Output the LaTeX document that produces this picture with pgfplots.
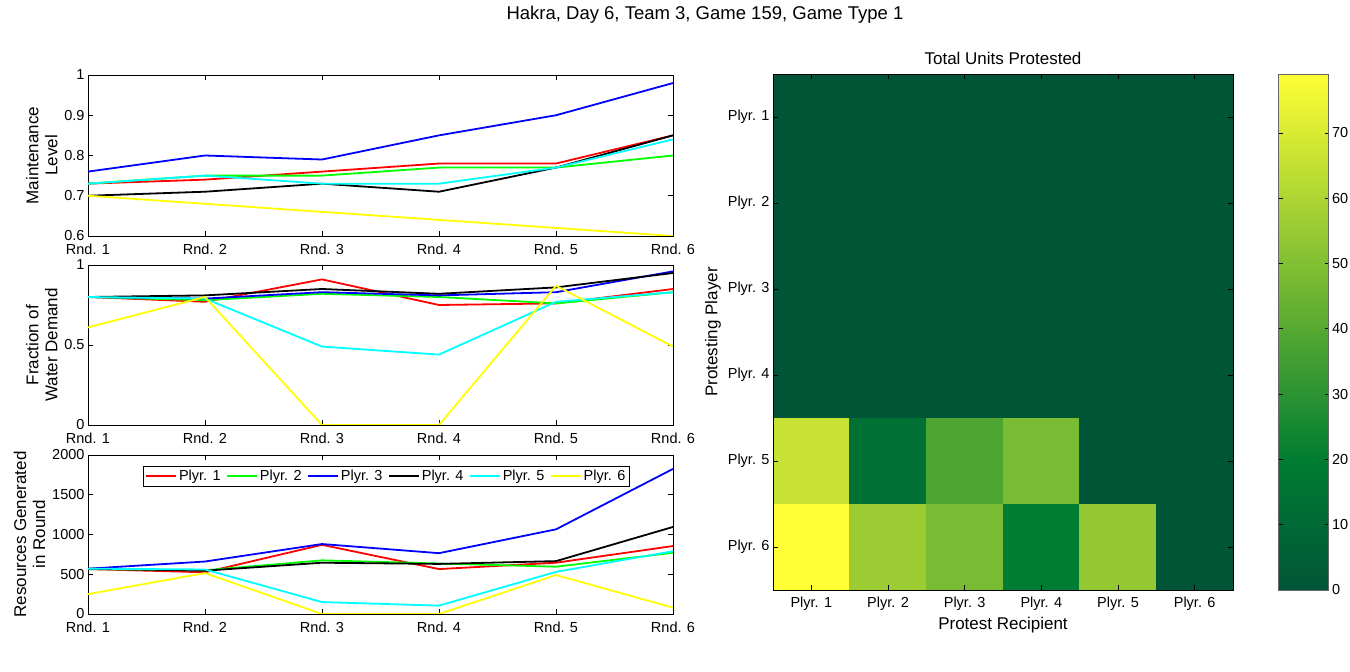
\documentclass[border=0pt]{standalone}
\usepackage{fontspec}
\setmainfont{Liberation Sans}
\usepackage{pgfplots}
\usepackage{pgfplotstable}
\pgfplotsset{compat=1.18}

% Per-round series: one column per player
\pgfplotstableread{
r p1 p2 p3 p4 p5 p6
1 0.73 0.73 0.76 0.70 0.73 0.70
2 0.74 0.75 0.80 0.71 0.75 0.68
3 0.76 0.75 0.79 0.73 0.73 0.66
4 0.78 0.77 0.85 0.71 0.73 0.64
5 0.78 0.77 0.90 0.77 0.77 0.62
6 0.85 0.80 0.98 0.85 0.84 0.60
}\maint

\pgfplotstableread{
r p1 p2 p3 p4 p5 p6
1 0.80 0.80 0.80 0.80 0.80 0.61
2 0.77 0.78 0.79 0.81 0.79 0.80
3 0.91 0.82 0.83 0.85 0.49 0.00
4 0.75 0.80 0.81 0.82 0.44 0.00
5 0.76 0.76 0.83 0.86 0.77 0.87
6 0.85 0.83 0.96 0.95 0.83 0.49
}\water

\pgfplotstableread{
r p1 p2 p3 p4 p5 p6
1 565 565 570 570 570 250
2 525 550 660 545 560 515
3 870 675 880 645 150 0
4 565 635 765 630 105 0
5 645 595 1065 665 530 490
6 855 770 1825 1095 790 80
}\resources

% Protest matrix: x = recipient, y = protesting player
\pgfplotstableread{
x y c
1 1 0
2 1 0
3 1 0
4 1 0
5 1 0
6 1 0
1 2 0
2 2 0
3 2 0
4 2 0
5 2 0
6 2 0
1 3 0
2 3 0
3 3 0
4 3 0
5 3 0
6 3 0
1 4 0
2 4 0
3 4 0
4 4 0
5 4 0
6 4 0
1 5 66
2 5 14
3 5 38
4 5 48
5 5 0
6 5 0
1 6 79
2 6 56
3 6 48
4 6 20
5 6 54
6 6 0
}\protests

\newcommand{\tickfont}{\fontsize{14.5}{16}\selectfont}
\newcommand{\labelfont}{\fontsize{17}{19}\selectfont}

\pgfplotsset{
  matlab/.style={
    scale only axis,
    tick align=inside,
    tick pos=both,
    major tick length=5pt,
    axis line style={black, line width=0.6pt},
    tick style={black, line width=0.5pt},
    ticklabel style={font=\tickfont},
    label style={font=\labelfont},
    title style={font=\labelfont},
    /pgf/number format/assume math mode=true,
    /pgf/number format/1000 sep={},
    scaled ticks=false,
  },
  rounds/.style={
    matlab,
    width=585pt,
    xmin=1, xmax=6,
    xtick={1,...,6},
    xticklabels={Rnd. 1,Rnd. 2,Rnd. 3,Rnd. 4,Rnd. 5,Rnd. 6},
    xticklabel style={yshift=-4pt},
    ylabel style={align=center},
  },
  pl/.style={line width=1.8pt, mark=none},
}

\definecolor{c1}{rgb}{1,0,0}
\definecolor{c2}{rgb}{0,1,0}
\definecolor{c3}{rgb}{0,0,1}
\definecolor{c4}{rgb}{0,0,0}
\definecolor{c5}{rgb}{0,1,1}
\definecolor{c6}{rgb}{1,1,0}

\begin{document}
\begin{tikzpicture}
\useasboundingbox (0pt,0pt) rectangle (1350pt,672pt);

\node[font=\fontsize{18.5}{20}\selectfont] at (705pt,657pt) {Hakra, Day 6, Team 3, Game 159, Game Type 1};

% Maintenance level
\begin{axis}[rounds, at={(88pt,436pt)}, anchor=south west, height=161pt,
  ymin=0.6, ymax=1, ytick={0.6,0.7,0.8,0.9,1},
  ylabel={Maintenance\\Level}]
\addplot[pl, c1] table[x=r, y=p1] {\maint};
\addplot[pl, c2] table[x=r, y=p2] {\maint};
\addplot[pl, c3] table[x=r, y=p3] {\maint};
\addplot[pl, c4] table[x=r, y=p4] {\maint};
\addplot[pl, c5] table[x=r, y=p5] {\maint};
\addplot[pl, c6] table[x=r, y=p6] {\maint};
\end{axis}

% Fraction of water demand
\begin{axis}[rounds, at={(88pt,247pt)}, anchor=south west, height=160pt,
  ymin=0, ymax=1, ytick={0,0.5,1},
  ylabel={Fraction of\\Water Demand}]
\addplot[pl, c1] table[x=r, y=p1] {\water};
\addplot[pl, c2] table[x=r, y=p2] {\water};
\addplot[pl, c3] table[x=r, y=p3] {\water};
\addplot[pl, c4] table[x=r, y=p4] {\water};
\addplot[pl, c5] table[x=r, y=p5] {\water};
\addplot[pl, c6] table[x=r, y=p6] {\water};
\end{axis}

% Resources generated
\begin{axis}[rounds, at={(88pt,58pt)}, anchor=south west, height=159pt,
  ymin=0, ymax=2000, ytick={0,500,1000,1500,2000},
  ylabel={Resources Generated\\in Round},
  legend style={at={(0.094,0.93)}, anchor=north west, draw=black, line width=0.5pt,
    font=\tickfont, inner sep=2pt,
    /tikz/every even column/.append style={column sep=3.5pt}},
  legend columns=6,
  legend image code/.code={\draw[#1] (0pt,0pt) -- (30pt,0pt);}]
\addplot[pl, c1] table[x=r, y=p1] {\resources};
\addplot[pl, c2] table[x=r, y=p2] {\resources};
\addplot[pl, c3] table[x=r, y=p3] {\resources};
\addplot[pl, c4] table[x=r, y=p4] {\resources};
\addplot[pl, c5] table[x=r, y=p5] {\resources};
\addplot[pl, c6] table[x=r, y=p6] {\resources};
\legend{Plyr. 1,Plyr. 2,Plyr. 3,Plyr. 4,Plyr. 5,Plyr. 6}
\end{axis}

% Protest matrix
\begin{axis}[matlab, at={(773pt,82pt)}, anchor=south west,
  width=460pt, height=516pt,
  xmin=0.5, xmax=6.5, ymin=0.5, ymax=6.5, y dir=reverse,
  xtick={1,...,6}, ytick={1,...,6},
  xticklabels={Plyr. 1,Plyr. 2,Plyr. 3,Plyr. 4,Plyr. 5,Plyr. 6},
  yticklabels={Plyr. 1,Plyr. 2,Plyr. 3,Plyr. 4,Plyr. 5,Plyr. 6},
  xticklabel style={yshift=-3pt},
  xlabel={Protest Recipient}, ylabel={Protesting Player},
  title={Total Units Protested},
  colormap={protest}{rgb255(0pt)=(0,85,55); rgb255(20pt)=(0,125,50); rgb255(79pt)=(255,255,51)},
  point meta min=0, point meta max=79,
  axis on top,
  colorbar,
  colorbar/width=50pt,
  colorbar style={
    at={(parent axis.north east)}, anchor=north west, xshift=37pt,
    scale only axis, height=516pt,
    ytick={0,10,...,70},
    tick align=inside, major tick length=4pt,
    yticklabel pos=right, ytick pos=both,
    yticklabel style={font=\tickfont},
    axis line style={black!60, line width=0.6pt},
    /pgf/number format/assume math mode=true,
  }]
\addplot[matrix plot*, mesh/cols=6, point meta=explicit] table[x=x, y=y, meta=c] {\protests};
\end{axis}
\end{tikzpicture}
\end{document}
